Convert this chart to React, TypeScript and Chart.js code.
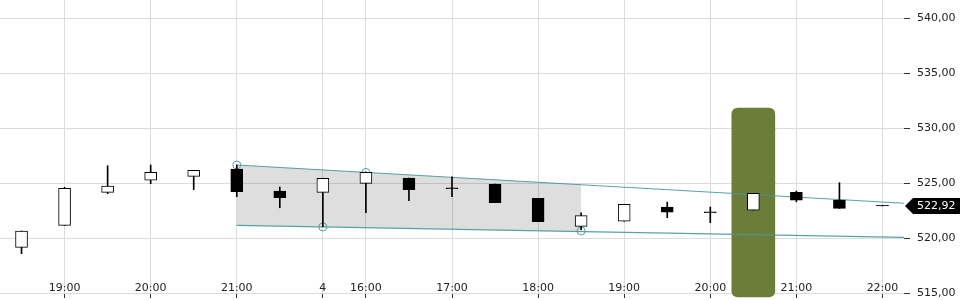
import React, { useEffect, useRef } from "react";
import { Chart, registerables } from "chart.js";

Chart.register(...registerables);

const categories = [
  "3 18:30", "3 19:00", "3 19:30", "3 20:00", "3 20:30", "3 21:00", "3 21:30",
  "4 15:30", "4 16:00", "4 16:30", "4 17:00", "4 17:30", "4 18:00", "4 18:30",
  "4 19:00", "4 19:30", "4 20:00", "4 20:30", "4 21:00", "4 21:30", "4 22:00",
];
const tickLabels = [
  "", "19:00", "", "20:00", "", "21:00", "", "4", "16:00", "", "17:00", "",
  "18:00", "", "19:00", "", "20:00", "", "21:00", "", "22:00",
];

const opens = [519.15, 521.15, 524.15, 525.25, 525.61, 526.27, 524.27, 524.15, 524.97, 525.45, 524.56, 524.91, 523.61, 521.06, 521.52, 522.82, 522.38, 522.52, 524.15, 523.45, 522.96];
const highs = [520.64, 524.6, 526.57, 526.64, 526.15, 526.64, 524.64, 525.43, 526.0, 525.45, 525.57, 524.91, 523.61, 522.3, 523.06, 523.27, 522.82, 524.06, 524.27, 525.03, 522.96];
const lows = [518.57, 521.15, 524.03, 524.94, 524.39, 523.75, 522.75, 521.03, 522.3, 523.39, 523.75, 523.21, 521.48, 520.75, 521.52, 521.85, 521.39, 522.52, 523.3, 522.7, 522.92];
const closes = [520.64, 524.52, 524.73, 525.97, 526.15, 524.21, 523.66, 525.43, 525.97, 524.39, 524.48, 523.21, 521.48, 522.03, 523.06, 522.34, 522.3, 524.06, 523.43, 522.7, 522.92];

// trend channel (resistance through highs, support through lows)
const upperTrend = [{ x: 5, y: 526.64 }, { x: 20.5, y: 523.16 }];
const lowerTrend = [{ x: 5, y: 521.15 }, { x: 20.5, y: 520.06 }];
const upperChannel = [{ x: 5, y: 526.64 }, { x: 13, y: 524.87 }];
const lowerChannel = [{ x: 5, y: 521.15 }, { x: 13, y: 520.59 }];
const anchorPoints = [
  { x: 5, y: 526.64 }, { x: 8, y: 525.97 }, { x: 7, y: 521.01 }, { x: 13, y: 520.64 },
];

// highlighted candle
const highlightIndex = 17;
const highlightRange: [number, number] = [514.64, 531.82];

const lastPrice = closes[closes.length - 1];
const fmt = (v: number) => v.toFixed(2).replace(".", ",");

const FONT = "DejaVu Sans";
const TEAL = "rgba(70,152,155,0.9)";

const xLabelPlugin = {
  id: "xLabelsInside",
  afterDatasetsDraw(chart: any) {
    const { ctx, chartArea } = chart;
    const x = chart.scales.x;
    ctx.save();
    ctx.font = `11px "${FONT}"`;
    ctx.fillStyle = "#222";
    ctx.textAlign = "center";
    ctx.textBaseline = "alphabetic";
    tickLabels.forEach((t, i) => {
      if (t) ctx.fillText(t, x.getPixelForValue(i), chartArea.bottom - 2);
    });
    ctx.restore();
  },
};

const priceTagPlugin = {
  id: "priceTag",
  afterDraw(chart: any) {
    const { ctx, chartArea, width } = chart;
    const y = chart.scales.y.getPixelForValue(lastPrice);
    const x0 = chartArea.right + 1;
    const h = 8;
    ctx.save();
    ctx.fillStyle = "#000";
    ctx.beginPath();
    ctx.moveTo(x0, y);
    ctx.lineTo(x0 + 8, y - h);
    ctx.lineTo(width, y - h);
    ctx.lineTo(width, y + h);
    ctx.lineTo(x0 + 8, y + h);
    ctx.closePath();
    ctx.fill();
    ctx.fillStyle = "#fff";
    ctx.font = `11px "${FONT}"`;
    ctx.textAlign = "left";
    ctx.textBaseline = "middle";
    ctx.fillText(fmt(lastPrice), x0 + 12, y + 0.5);
    ctx.restore();
  },
};

export default function App() {
  const ref = useRef<HTMLCanvasElement>(null);

  useEffect(() => {
    const idx = categories.map((_, i) => i);
    const bodies = idx.map((i) => ({ x: i, y: [opens[i], closes[i]] }));
    const wicks = idx.map((i) => ({ x: i, y: [lows[i], highs[i]] }));
    const bodyColors = idx.map((i) => (closes[i] > opens[i] ? "#ffffff" : "#000000"));

    const chart = new Chart(ref.current as HTMLCanvasElement, {
      type: "bar",
      data: {
        datasets: [
          {
            type: "bar",
            label: "bodies",
            data: bodies as any,
            backgroundColor: bodyColors,
            borderColor: "#000",
            borderWidth: 1,
            borderSkipped: false,
            barThickness: 12,
            grouped: false,
            order: 1,
          },
          {
            type: "bar",
            label: "wicks",
            data: wicks as any,
            backgroundColor: "#000",
            barThickness: 1,
            grouped: false,
            order: 2,
          },
          {
            type: "line",
            label: "anchors",
            data: anchorPoints,
            showLine: false,
            pointRadius: 4,
            pointBorderWidth: 1,
            pointBorderColor: TEAL,
            pointBackgroundColor: "rgba(0,0,0,0)",
            order: 3,
          },
          {
            type: "line",
            label: "upper",
            data: upperTrend,
            borderColor: TEAL,
            borderWidth: 1.2,
            pointRadius: 0,
            order: 4,
          },
          {
            type: "line",
            label: "lower",
            data: lowerTrend,
            borderColor: TEAL,
            borderWidth: 1.2,
            pointRadius: 0,
            order: 4,
          },
          {
            type: "bar",
            label: "highlight",
            data: [{ x: highlightIndex, y: highlightRange }] as any,
            backgroundColor: "#6b7d39",
            borderRadius: 6,
            borderSkipped: false,
            barThickness: 43,
            grouped: false,
            clip: false as any,
            order: 8,
          },
          {
            type: "line",
            label: "channelTop",
            data: upperChannel,
            borderWidth: 0,
            pointRadius: 0,
            fill: false,
            order: 9,
          },
          {
            type: "line",
            label: "channelBottom",
            data: lowerChannel,
            borderWidth: 0,
            pointRadius: 0,
            fill: "-1",
            backgroundColor: "rgba(0,0,0,0.13)",
            order: 10,
          },
        ],
      },
      options: {
        responsive: false,
        animation: false,
        devicePixelRatio: 1,
        events: [],
        layout: { padding: 0, autoPadding: false } as any,
        plugins: {
          legend: { display: false },
          tooltip: { enabled: false },
        },
        scales: {
          x: {
            type: "linear",
            min: -0.5,
            max: 20.5,
            offset: false,
            afterBuildTicks: (scale: any) => {
              scale.ticks = categories.map((_, i) => ({ value: i }));
            },
            afterFit: (scale: any) => {
              scale.height = 7;
              scale.paddingLeft = 0;
              scale.paddingRight = 0;
            },
            ticks: { display: false, autoSkip: false },
            grid: {
              offset: false,
              drawTicks: true,
              tickLength: 5,
              color: (c: any) => (tickLabels[c.index] ? "#dcdcdc" : "rgba(0,0,0,0)"),
              tickColor: (c: any) => (tickLabels[c.index] ? "#333" : "rgba(0,0,0,0)"),
            },
            border: { display: false },
          },
          y: {
            type: "linear",
            position: "right",
            min: 515,
            max: 541.64,
            afterBuildTicks: (scale: any) => {
              scale.ticks = scale.ticks.filter((t: any) => Math.abs(t.value % 5) < 1e-6);
            },
            afterFit: (scale: any) => {
              scale.width = 56;
              scale.paddingTop = 0;
              scale.paddingBottom = 0;
            },
            ticks: {
              stepSize: 5,
              padding: 7,
              color: "#222",
              font: { family: FONT, size: 11 },
              callback: (v: any) => fmt(Number(v)),
            },
            grid: {
              color: "#dcdcdc",
              tickColor: "#333",
              tickLength: 6,
              drawTicks: true,
            },
            border: { display: false },
          },
        },
      },
      plugins: [xLabelPlugin, priceTagPlugin],
    } as any);
    return () => chart.destroy();
  }, []);

  return (
    <div style={{ position: "fixed", left: 0, top: 0, width: 960, height: 300 }}>
      <canvas ref={ref} width={960} height={300} style={{ display: "block" }} />
    </div>
  );
}
